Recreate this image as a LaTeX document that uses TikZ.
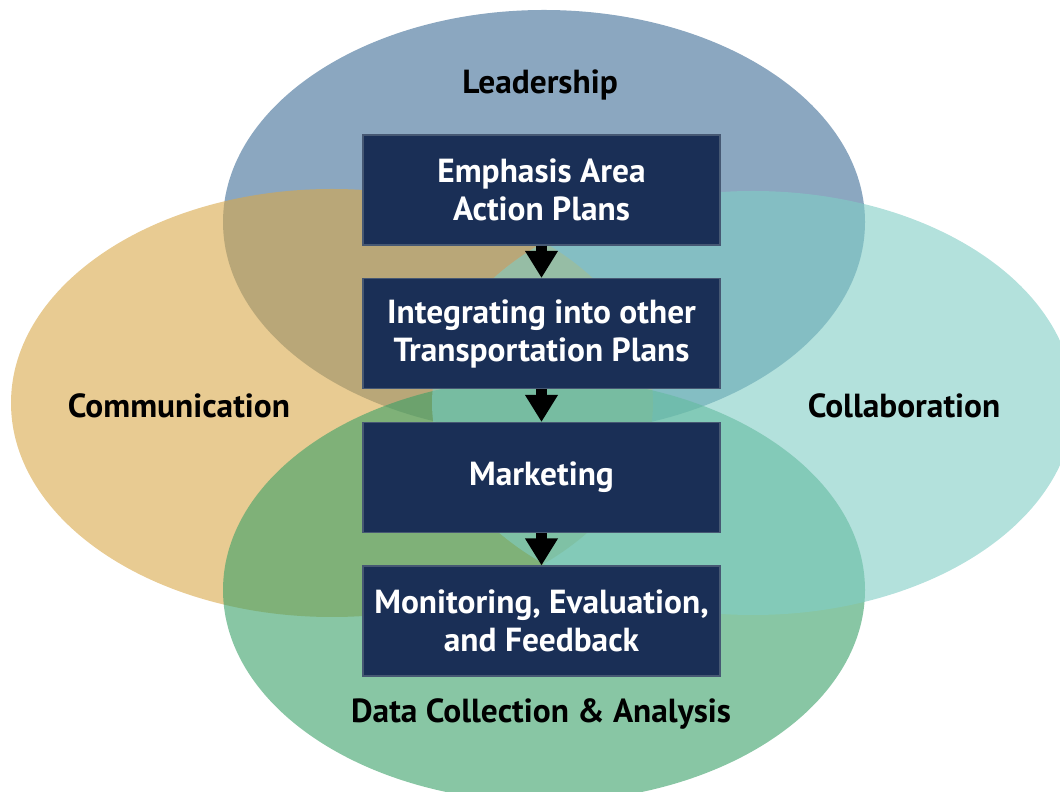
\documentclass[tikz,border=0pt]{standalone}
\usepackage{fontspec}
\setmainfont{PT Sans}
\usetikzlibrary{arrows.meta}

\definecolor{leadBlue}{RGB}{62,108,150}
\definecolor{commGold}{RGB}{217,168,73}
\definecolor{collabTeal}{RGB}{128,205,197}
\definecolor{dataGreen}{RGB}{57,160,103}
\definecolor{planNavy}{RGB}{26,47,86}
\definecolor{planEdge}{RGB}{70,88,115}

\begin{document}
\begin{tikzpicture}[
    blob/.style={fill opacity=0.6},
    planbox/.style={fill=planNavy, draw=planEdge, line width=0.3pt,
        minimum width=3.57cm, minimum height=1.10cm, inner sep=0pt,
        text=white, align=center, font=\fontsize{9.5}{10.8}\selectfont\bfseries},
    areaname/.style={text=black, font=\fontsize{9.5}{10.8}\selectfont\bfseries},
    flow/.style={line width=0.105cm, -{Triangle[width=0.31cm,length=0.27cm]}}
  ]
    \useasboundingbox (0,0) rectangle (10.6,7.91);
    \clip (0,0) rectangle (10.6,7.91);

   %LEADERSHIP
    \fill [blob,leadBlue] (5.44,5.69) ellipse [x radius=3.21, y radius=2.12];
   %COMMUNICATION
    \fill [blob,commGold] (3.32,3.88) ellipse [x radius=3.21, y radius=2.14];
   %DATA
    \fill [blob,dataGreen] (5.44,2.01) ellipse [x radius=3.21, y radius=2.12];
   %COLLABORATION
    \fill [blob,collabTeal] (7.53,3.88) ellipse [x radius=3.21, y radius=2.12];

    \node (lead) at (5.40,7.06) [areaname] {Leadership};
    \node (comm) at (1.79,3.85) [areaname] {Communication};
    \node (collab) at (9.04,3.85) [areaname] {Collaboration};
    \node (data) at (5.41,0.77) [areaname] {Data Collection \& Analysis};

   %PLANS
    \node (emph) at (5.415,6.01) [planbox] {Emphasis Area\\Action Plans};
    \node (integ) at (5.415,4.575) [planbox] {Integrating into other\\Transportation Plans};
    \node (mkt) at (5.415,3.135) [planbox] {Marketing};
    \node (monit) at (5.415,1.70) [planbox] {Monitoring, Evaluation,\\and Feedback};

    \draw [flow] (emph) -- (integ);
    \draw [flow] (integ) -- (mkt);
    \draw [flow] (mkt) -- (monit);

 \end{tikzpicture}
\end{document}
